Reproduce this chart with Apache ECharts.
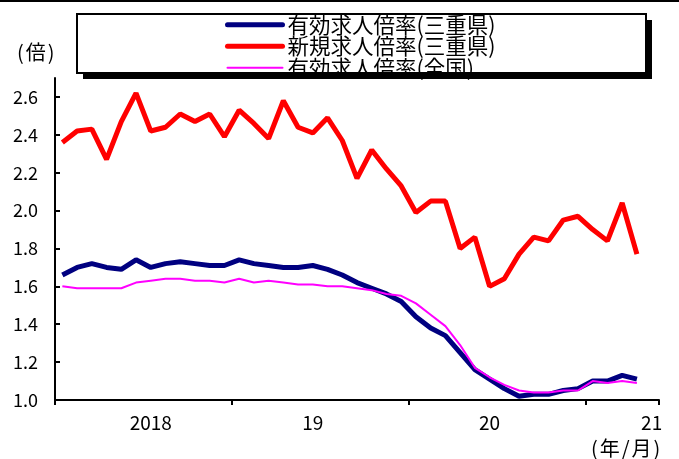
<!DOCTYPE html>
<html>
<head>
<meta charset="utf-8">
<script src="https://cdn.jsdelivr.net/npm/echarts@6/dist/echarts.min.js"></script>
<style>
  html, body { margin: 0; padding: 0; background: #fff; }
  #chart { width: 679px; height: 459px; }
</style>
</head>
<body>
<div id="chart"></div>
<script>
// Monthly categories: 2018/1 through 2021/5 (the last slot is left empty)
const months = [];
for (let y = 2018; y <= 2021; y++) {
  for (let m = 1; m <= 12; m++) {
    if (y === 2021 && m > 5) break;
    months.push(y + '/' + m);
  }
}

// Year captions shown under the axis, keyed by category
const yearLabels = { '2018/7': '2018', '2019/6': '19', '2020/6': '20', '2021/5': '21' };

// Y-axis ticks (倍)
const yTicks = [1.0, 1.2, 1.4, 1.6, 1.8, 2.0, 2.2, 2.4, 2.6];

const seriesNames = ['有効求人倍率(三重県)', '新規求人倍率(三重県)', '有効求人倍率(全国)'];

// 有効求人倍率(三重県)
const mieActive = [
  1.66, 1.70, 1.72, 1.70, 1.69, 1.74, 1.70, 1.72, 1.73, 1.72, 1.71, 1.71,
  1.74, 1.72, 1.71, 1.70, 1.70, 1.71, 1.69, 1.66, 1.62, 1.59, 1.56, 1.52,
  1.44, 1.38, 1.34, 1.25, 1.16, 1.11, 1.06, 1.02, 1.03, 1.03, 1.05, 1.06,
  1.10, 1.10, 1.13, 1.11
];
// 新規求人倍率(三重県)
const mieNew = [
  2.36, 2.42, 2.43, 2.27, 2.47, 2.62, 2.42, 2.44, 2.51, 2.47, 2.51, 2.39,
  2.53, 2.46, 2.38, 2.58, 2.44, 2.41, 2.49, 2.37, 2.17, 2.32, 2.22, 2.13,
  1.99, 2.05, 2.05, 1.80, 1.86, 1.60, 1.64, 1.77, 1.86, 1.84, 1.95, 1.97,
  1.90, 1.84, 2.04, 1.77
];
// 有効求人倍率(全国)
const nationActive = [
  1.60, 1.59, 1.59, 1.59, 1.59, 1.62, 1.63, 1.64, 1.64, 1.63, 1.63, 1.62,
  1.64, 1.62, 1.63, 1.62, 1.61, 1.61, 1.60, 1.60, 1.59, 1.58, 1.56, 1.55,
  1.51, 1.45, 1.39, 1.29, 1.17, 1.12, 1.08, 1.05, 1.04, 1.04, 1.05, 1.05,
  1.10, 1.09, 1.10, 1.09
];

const numFont = "'Noto Sans CJK JP', sans-serif";
const jpFont = "'Noto Sans CJK JP', sans-serif";

const chart = echarts.init(document.getElementById('chart'), null, { renderer: 'canvas' });

chart.setOption({
  animation: false,
  backgroundColor: '#fff',
  grid: { left: 55, top: 78, right: 20, bottom: 59, containLabel: false },
  graphic: [
    // rule across the top
    { type: 'rect', z: 0, shape: { x: 0, y: 0, width: 679, height: 2 }, style: { fill: '#000' } },
    // legend frame with drop shadow
    { type: 'rect', z: 0, shape: { x: 83, y: 20, width: 569, height: 59 }, style: { fill: '#000' } },
    { type: 'rect', z: 1, shape: { x: 77, y: 14, width: 569, height: 59 }, style: { fill: '#fff', stroke: '#000', lineWidth: 2 } },
    // unit captions
    {
      type: 'text', z: 2, style: {
        x: 15, y: 52, verticalAlign: 'middle',
        text: '{p|(}{k|倍}{p|)}',
        rich: {
          p: { fontFamily: jpFont, fontSize: 20, padding: [0, 2, 0, 2], fill: '#000' },
          k: { fontFamily: jpFont, fontSize: 20, fill: '#000' }
        }
      }
    },
    {
      type: 'text', z: 2, style: {
        x: 589, y: 448, verticalAlign: 'middle',
        text: '{p|(}{k|年}{p|/}{k|月}{p|)}',
        rich: {
          p: { fontFamily: jpFont, fontSize: 20, padding: [0, 2, 0, 2], fill: '#000' },
          k: { fontFamily: jpFont, fontSize: 20, fill: '#000' }
        }
      }
    }
  ],
  legend: {
    orient: 'vertical',
    left: 225,
    top: 14,
    z: 10,
    padding: 0,
    itemGap: 0,
    itemWidth: 55,
    itemHeight: 14,
    itemStyle: { opacity: 0 },
    textStyle: { fontFamily: jpFont, fontSize: 21.5, lineHeight: 19.5, color: '#000' },
    data: [
      { name: seriesNames[0], lineStyle: { width: 5, cap: 'round' } },
      { name: seriesNames[1], lineStyle: { width: 5, cap: 'round' } },
      { name: seriesNames[2], lineStyle: { width: 2, cap: 'round' } }
    ]
  },
  xAxis: {
    type: 'category',
    data: months,
    boundaryGap: true,
    axisLine: { lineStyle: { color: '#000', width: 2 } },
    axisTick: {
      show: true,
      inside: false,
      length: 5,
      interval: (idx) => idx % 12 === 0,
      lineStyle: { color: '#000', width: 2 }
    },
    axisLabel: {
      interval: 0,
      margin: 13,
      fontFamily: numFont,
      fontSize: 19,
      color: '#000',
      formatter: (v) => yearLabels[v] || ''
    },
    splitLine: { show: false }
  },
  yAxis: {
    type: 'value',
    min: 1.0,
    max: 2.7,
    interval: 0.2,
    axisLine: { show: true, lineStyle: { color: '#000', width: 2 } },
    axisTick: {
      show: true,
      inside: true,
      length: 5,
      customValues: yTicks,
      lineStyle: { color: '#000', width: 2 }
    },
    axisLabel: {
      customValues: yTicks,
      margin: 17,
      fontFamily: numFont,
      fontSize: 18,
      color: '#000',
      formatter: (v) => Number(v).toFixed(1)
    },
    splitLine: { show: false }
  },
  series: [
    {
      name: seriesNames[0], type: 'line', data: mieActive, symbol: 'none',
      lineStyle: { color: '#000080', width: 5 }, itemStyle: { color: '#000080' }
    },
    {
      name: seriesNames[1], type: 'line', data: mieNew, symbol: 'none',
      lineStyle: { color: '#ff0000', width: 5 }, itemStyle: { color: '#ff0000' }
    },
    {
      name: seriesNames[2], type: 'line', data: nationActive, symbol: 'none',
      lineStyle: { color: '#ff00ff', width: 2 }, itemStyle: { color: '#ff00ff' }
    }
  ]
});
</script>
</body>
</html>
